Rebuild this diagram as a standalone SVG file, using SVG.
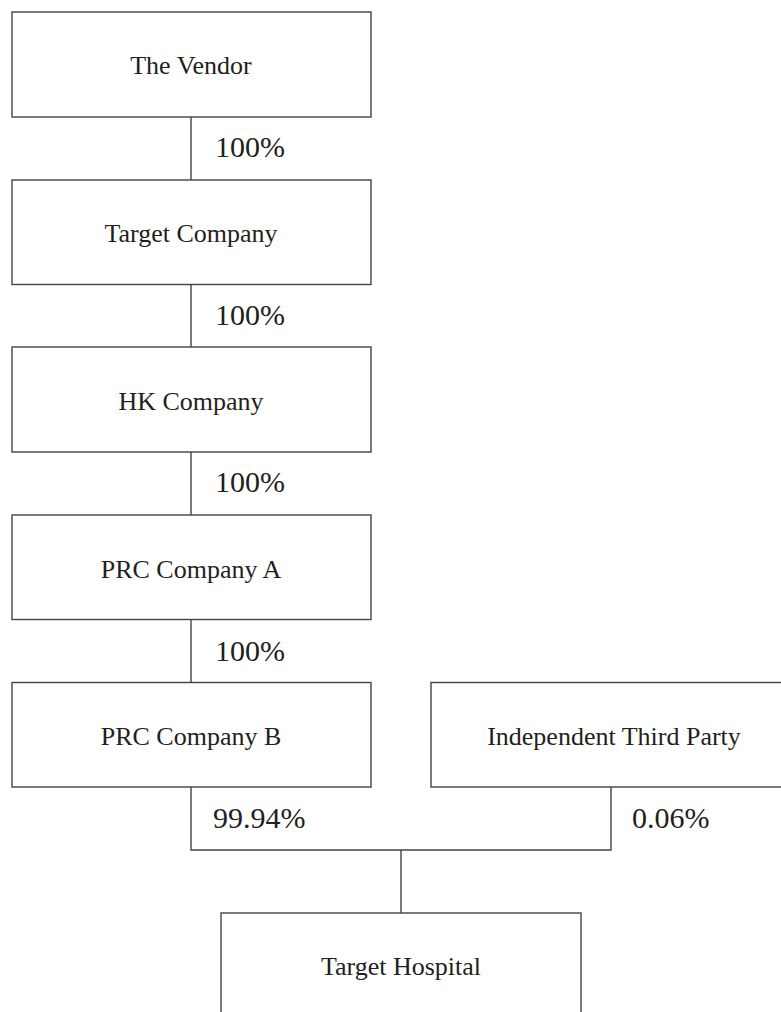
<svg xmlns="http://www.w3.org/2000/svg" width="781" height="1012" viewBox="0 0 781 1012">
<style>
.box{fill:#fff;stroke:#444;stroke-width:1.4}
.ln{fill:none;stroke:#444;stroke-width:1.4}
.t{font-family:"Liberation Serif","Times New Roman",serif;font-size:26px;fill:#231f20;text-anchor:middle}
.p{font-family:"Liberation Serif","Times New Roman",serif;font-size:30px;fill:#231f20}
</style>
<rect width="781" height="1012" fill="#fff"/>
<g id="connectors">
<line class="ln" x1="191" y1="117" x2="191" y2="180"/>
<line class="ln" x1="191" y1="284.5" x2="191" y2="347"/>
<line class="ln" x1="191" y1="452" x2="191" y2="515"/>
<line class="ln" x1="191" y1="619.5" x2="191" y2="682.5"/>
<polyline class="ln" points="191,787 191,850 611,850 611,787"/>
<line class="ln" x1="401" y1="850" x2="401" y2="913"/>
<text class="p" x="215" y="157">100%</text>
<text class="p" x="215" y="325">100%</text>
<text class="p" x="215" y="492">100%</text>
<text class="p" x="215" y="661">100%</text>
<text class="p" x="213" y="828">99.94%</text>
<text class="p" x="632" y="828">0.06%</text>
</g>
<g id="vendor"><rect class="box" x="12" y="12" width="359" height="105"/><text class="t" x="191" y="74">The Vendor</text></g>
<g id="target-company"><rect class="box" x="12" y="180" width="359" height="104.5"/><text class="t" x="191" y="242">Target Company</text></g>
<g id="hk-company"><rect class="box" x="12" y="347" width="359" height="105"/><text class="t" x="191" y="409.5">HK Company</text></g>
<g id="prc-a"><rect class="box" x="12" y="515" width="359" height="104.5"/><text class="t" x="191" y="577.5">PRC Company A</text></g>
<g id="prc-b"><rect class="box" x="12" y="682.5" width="359" height="104.5"/><text class="t" x="191" y="745">PRC Company B</text></g>
<g id="independent"><rect class="box" x="431" y="682.5" width="370" height="104.5"/><text class="t" x="614" y="744.5">Independent Third Party</text></g>
<g id="target-hospital"><rect class="box" x="221" y="913" width="360" height="130"/><text class="t" x="401" y="975">Target Hospital</text></g>
</svg>
